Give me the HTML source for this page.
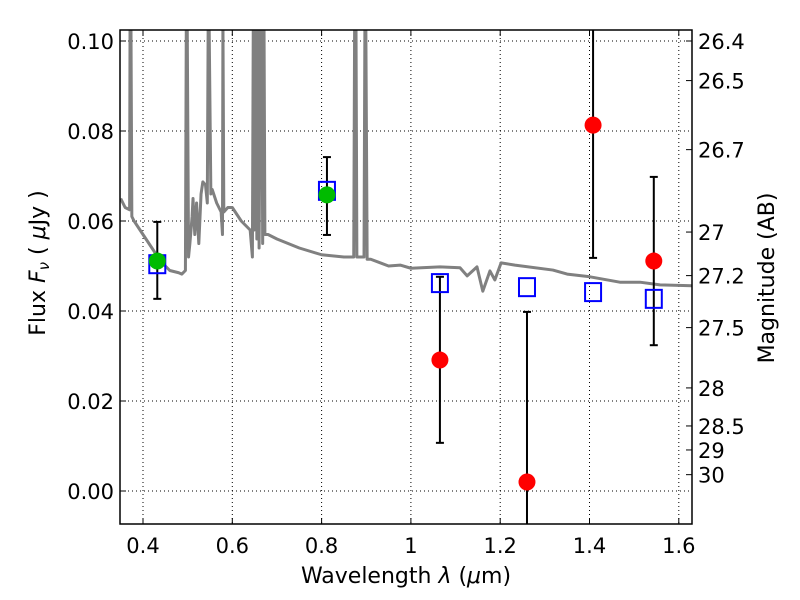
<!DOCTYPE html>
<html><head><meta charset="utf-8"><style>
html,body{margin:0;padding:0;background:#fff;width:800px;height:600px;overflow:hidden}
svg{display:block}
svg text{font-family:"DejaVu Sans","Liberation Sans",sans-serif;fill:#000}
</style></head><body>
<svg id="chart" width="800" height="600" xmlns="http://www.w3.org/2000/svg" style="position:absolute;left:0;top:0"></svg>
<script>
const specLam=[0.35,0.36,0.37,0.371,0.373,0.375,0.38,0.40,0.42,0.44,0.46,0.48,0.487,0.495,0.497,0.499,0.502,0.505,0.51,0.512,0.516,0.52,0.525,0.53,0.534,0.54,0.544,0.546,0.548,0.552,0.555,0.565,0.575,0.578,0.579,0.581,0.59,0.60,0.62,0.64,0.645,0.647,0.649,0.652,0.655,0.658,0.66,0.663,0.666,0.668,0.671,0.673,0.68,0.70,0.75,0.80,0.85,0.872,0.874,0.877,0.879,0.895,0.897,0.899,0.902,0.91,0.95,0.976,1.0,1.065,1.11,1.126,1.148,1.161,1.177,1.188,1.202,1.233,1.318,1.35,1.401,1.468,1.513,1.558,1.63];
const specFlux=[0.065,0.063,0.0625,0.105,0.105,0.061,0.060,0.057,0.054,0.051,0.049,0.0485,0.0482,0.049,0.105,0.105,0.052,0.055,0.061,0.065,0.057,0.064,0.055,0.066,0.0687,0.068,0.064,0.105,0.105,0.066,0.067,0.064,0.062,0.057,0.105,0.062,0.063,0.063,0.060,0.058,0.052,0.105,0.058,0.105,0.056,0.105,0.054,0.105,0.105,0.055,0.105,0.057,0.057,0.056,0.054,0.0525,0.052,0.052,0.105,0.105,0.052,0.052,0.105,0.105,0.0515,0.0515,0.050,0.0502,0.0495,0.0498,0.0496,0.0478,0.0498,0.0444,0.0489,0.0469,0.0507,0.0502,0.0491,0.0482,0.0476,0.0464,0.0464,0.0458,0.0456];
const sqLam=[0.432,0.812,1.065,1.26,1.408,1.544];
const sqFlux=[0.0504,0.0667,0.0462,0.0453,0.0442,0.0427];
const gLam=[0.432,0.812];
const gFlux=[0.0511,0.0658];
const gLo=[0.0427,0.0569];
const gHi=[0.0598,0.0742];
const rLam=[1.065,1.26,1.408,1.544];
const rFlux=[0.0291,0.0020,0.0813,0.0511];
const rLo=[0.0107,-0.0085,0.0518,0.0324];
const rHi=[0.0476,0.0398,0.104,0.0698];
const xTicks=[0.4,0.6,0.8,1.0,1.2,1.4,1.6];
const xTickLabels=["0.4","0.6","0.8","1","1.2","1.4","1.6"];
const yTicks=[0,0.02,0.04,0.06,0.08,0.10];
const yTickLabels=["0.00","0.02","0.04","0.06","0.08","0.10"];
const magTicks=[26.4,26.5,26.7,27,27.2,27.5,28,28.5,29,30];
const magLabels=["26.4","26.5","26.7","27","27.2","27.5","28","28.5","29","30"];

const L=120,R=692,T=30,B=524;
const X=v=>143+(v-0.4)*446.5;
const Y=v=>491-v*4500;
const NS="http://www.w3.org/2000/svg";
const svg=document.getElementById('chart');
function mk(tag,attrs,parent){const e=document.createElementNS(NS,tag);for(const k in attrs)e.setAttribute(k,attrs[k]);(parent||svg).appendChild(e);return e;}
const defs=mk('defs',{});const cp=mk('clipPath',{id:'pc'},defs);mk('rect',{x:L,y:T,width:R-L,height:B-T},cp);
const grid=mk('g',{});


xTicks.forEach(v=>{mk('line',{x1:X(v),x2:X(v),y1:T,y2:B,stroke:'#000','stroke-width':1,'stroke-dasharray':'1,3'},grid);});
yTicks.forEach(v=>{mk('line',{x1:L,x2:R,y1:Y(v),y2:Y(v),stroke:'#000','stroke-width':1,'stroke-dasharray':'1,3'},grid);});
const plot=mk('g',{'clip-path':'url(#pc)'});
const sp=mk('polyline',{points:specLam.map((l,i)=>X(l)+','+Y(specFlux[i])).join(' '),fill:'none',stroke:'#808080','stroke-width':3,'stroke-linejoin':'round'},plot);


function eb(l,lo,hi,name){const g=mk('g',{},plot);


mk('line',{x1:X(l),x2:X(l),y1:Y(lo),y2:Y(hi),stroke:'#000','stroke-width':2},g);
mk('line',{x1:X(l)-4,x2:X(l)+4,y1:Y(lo),y2:Y(lo),stroke:'#000','stroke-width':2},g);
mk('line',{x1:X(l)-4,x2:X(l)+4,y1:Y(hi),y2:Y(hi),stroke:'#000','stroke-width':2},g);}
gLam.forEach((l,i)=>eb(l,gLo[i],gHi[i],'green-errorbar'));
rLam.forEach((l,i)=>eb(l,rLo[i],rHi[i],'red-errorbar'));
sqLam.forEach((l,i)=>{const r=mk('rect',{x:X(l)-8,y:Y(sqFlux[i])-9,width:16,height:18,fill:'none',stroke:'#0000ff','stroke-width':2},plot);

});
gLam.forEach((l,i)=>{const c=mk('circle',{cx:X(l),cy:Y(gFlux[i]),r:8.5,fill:'#00bb00'},plot);

});
rLam.forEach((l,i)=>{const c=mk('circle',{cx:X(l),cy:Y(rFlux[i]),r:8.5,fill:'#ff0000'},plot);

});
const fr=mk('rect',{x:L,y:T,width:R-L,height:B-T,fill:'none',stroke:'#000','stroke-width':1.5});


xTicks.forEach((v,i)=>{mk('line',{x1:X(v),x2:X(v),y1:B,y2:B-6,stroke:'#000'});mk('line',{x1:X(v),x2:X(v),y1:T,y2:T+6,stroke:'#000'});
const t=mk('text',{x:X(v),y:B+29,'font-size':21,'text-anchor':'middle'});t.textContent=xTickLabels[i];

});
yTicks.forEach((v,i)=>{mk('line',{x1:L,x2:L+6,y1:Y(v),y2:Y(v),stroke:'#000'});
const t=mk('text',{x:L-6,y:Y(v)+8,'font-size':21,'text-anchor':'end'});t.textContent=yTickLabels[i];

});
magTicks.forEach((m,i)=>{const y=Y(Math.pow(10,(23.9-m)/2.5));mk('line',{x1:R,x2:R-6,y1:y,y2:y,stroke:'#000'});
const t=mk('text',{x:R+6,y:y+8,'font-size':21});t.textContent=magLabels[i];

});
</script>
<svg style="position:absolute;left:0;top:0" width="800" height="600" xmlns="http://www.w3.org/2000/svg">
<text x="406" y="583" font-size="22" text-anchor="middle" font-family="DejaVu Sans, Liberation Sans, sans-serif">Wavelength  <tspan font-style="italic">λ</tspan> (<tspan font-style="italic">μ</tspan>m)</text>
<text transform="translate(45,263) rotate(-90)" font-size="22" text-anchor="middle" font-family="DejaVu Sans, Liberation Sans, sans-serif">Flux  <tspan font-style="italic">F<tspan font-size="15" dy="4">ν</tspan></tspan><tspan dy="-4">  (  </tspan><tspan font-style="italic">μ</tspan>Jy )</text>
<text transform="translate(774,278) rotate(-90)" font-size="22" text-anchor="middle" font-family="DejaVu Sans, Liberation Sans, sans-serif">Magnitude (AB)</text>
</svg>
</body></html>
